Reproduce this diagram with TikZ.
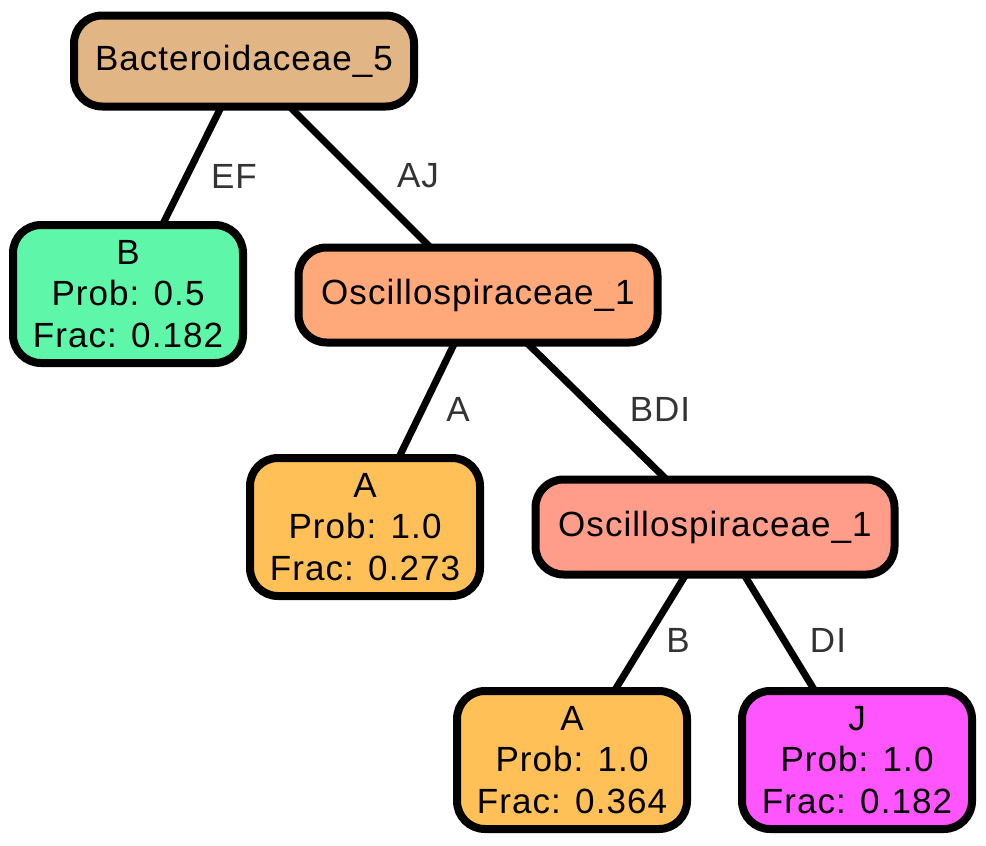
\documentclass[tikz,border=0pt]{standalone}
\usepackage{fontspec}
\usetikzlibrary{backgrounds}
\setmainfont{Liberation Sans}[LetterSpace=3]
\begin{document}
\begin{tikzpicture}[x=1pt,y=-1pt,
  tnode/.style={draw=black, line width=8pt, rounded corners=28pt,
    inner sep=0pt, align=center, font=\fontsize{35}{41.5}\selectfont},
  inner/.style={tnode, minimum width=359pt, minimum height=95pt},
  leaf/.style={tnode, minimum width=230pt, minimum height=138pt},
  link/.style={line width=7pt, draw=black},
  elabel/.style={text=black!80, font=\fontsize{35}{36}\selectfont, inner sep=0pt}]
\useasboundingbox (0,0) rectangle (986,846);
\definecolor{cBact}{RGB}{225,181,132}
\definecolor{cLeafB}{RGB}{94,247,170}
\definecolor{cOscA}{RGB}{255,169,122}
\definecolor{cLeafA}{RGB}{255,192,87}
\definecolor{cOscB}{RGB}{255,156,138}
\definecolor{cLeafJ}{RGB}{255,85,255}

% tree nodes
\node[tnode, minimum width=340pt, minimum height=91pt, fill=cBact] (root) at (244,61) {Bacteroidaceae\_5};
\node[leaf, fill=cLeafB] (b) at (128,294) {B\\Prob: 0.5\\Frac: 0.182};
\node[inner, fill=cOscA] (osc1) at (478,295) {Oscillospiraceae\_1};
\node[leaf, fill=cLeafA] (a1) at (365,527) {A\\Prob: 1.0\\Frac: 0.273};
\node[inner, fill=cOscB] (osc2) at (715,527) {Oscillospiraceae\_1};
\node[leaf, fill=cLeafA] (a2) at (572,760) {A\\Prob: 1.0\\Frac: 0.364};
\node[leaf, fill=cLeafJ] (j) at (857,760) {J\\Prob: 1.0\\Frac: 0.182};

% branches, behind the boxes
\begin{scope}[on background layer]
\draw[link] (root.center) -- (b.center);
\draw[link] (root.center) -- (osc1.center);
\draw[link] (osc1.center) -- (a1.center);
\draw[link] (osc1.center) -- (osc2.center);
\draw[link] (osc2.center) -- (a2.center);
\draw[link] (osc2.center) -- (j.center);
\end{scope}

% branch labels
\node[elabel] (lef) at (234,176) {EF};
\node[elabel] (laj) at (418,176) {AJ};
\node[elabel] (la) at (458,409) {A};
\node[elabel] (lbdi) at (660,409) {BDI};
\node[elabel] (lb) at (678,640) {B};
\node[elabel] (ldi) at (828,640) {DI};
\end{tikzpicture}
\end{document}
